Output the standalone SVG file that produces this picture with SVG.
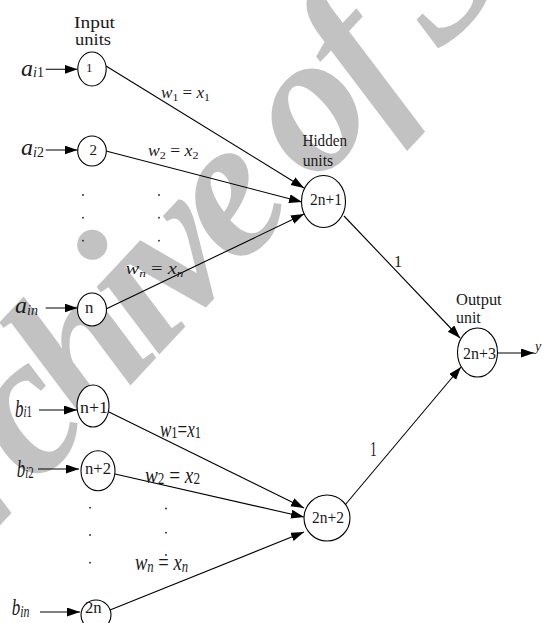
<svg xmlns="http://www.w3.org/2000/svg" width="544" height="623" viewBox="0 0 544 623">
<style>
text{font-family:"Liberation Serif","Times New Roman",serif;fill:#1a1a1a}
.i{font-style:italic}
.sub{font-size:11px}
.wm{font-family:"Liberation Serif",serif;font-weight:bold;font-style:italic;font-size:200px;letter-spacing:-12px;fill:#c2c2c2}
.node ellipse{fill:#fff;stroke:#000;stroke-width:1.1}
.edges line{stroke:#000;stroke-width:1.1}
.arr{marker-end:url(#ah)}
.dot{fill:#222}
</style>
<defs>
<marker id="ah" markerUnits="userSpaceOnUse" markerWidth="14" markerHeight="10" refX="13" refY="4.5" orient="auto">
<path d="M0,0 L13,4.5 L0,9 z" fill="#000"/>
</marker>
</defs>
<rect width="544" height="623" fill="#fff"/>
<g id="watermark">
<text class="wm" transform="translate(-92,624) rotate(-47)">Archive of SID</text>
</g>
<g id="headers" font-size="16">
<text x="74" y="27.5" textLength="41" lengthAdjust="spacingAndGlyphs">Input</text>
<text x="75" y="45" textLength="36" lengthAdjust="spacingAndGlyphs">units</text>
<text x="302.5" y="145.7" textLength="44.5" lengthAdjust="spacingAndGlyphs">Hidden</text>
<text x="302.7" y="165.7" textLength="30.5" lengthAdjust="spacingAndGlyphs">units</text>
<text x="456" y="305" textLength="45.7" lengthAdjust="spacingAndGlyphs">Output</text>
<text x="456" y="323" textLength="24.7" lengthAdjust="spacingAndGlyphs">unit</text>
</g>
<g class="edges">
<line class="arr" x1="45.7" y1="69.3" x2="77.5" y2="69.3"/>
<line class="arr" x1="45.7" y1="150" x2="77.5" y2="150"/>
<line class="arr" x1="45.7" y1="308" x2="77.5" y2="308"/>
<line class="arr" x1="39" y1="410" x2="77" y2="410"/>
<line class="arr" x1="38" y1="469" x2="79" y2="469"/>
<line class="arr" x1="40" y1="612" x2="80" y2="612"/>
<line class="arr" x1="106" y1="66" x2="304" y2="188"/>
<line class="arr" x1="106" y1="151" x2="302" y2="202"/>
<line class="arr" x1="106" y1="309" x2="304" y2="214"/>
<line class="arr" x1="109" y1="412" x2="304" y2="508"/>
<line class="arr" x1="115" y1="474" x2="304" y2="517"/>
<line class="arr" x1="110" y1="610" x2="304" y2="532"/>
<line class="arr" x1="344" y1="216" x2="460" y2="338"/>
<line class="arr" x1="345" y1="505" x2="461" y2="367"/>
<line class="arr" x1="497" y1="353" x2="534" y2="353"/>
</g>
<g id="n1" class="node"><ellipse cx="92" cy="69" rx="14.2" ry="17"/><text x="86" y="72" font-size="13">1</text></g>
<g id="n2" class="node"><ellipse cx="92" cy="151" rx="14.3" ry="15"/><text x="89.5" y="155" font-size="15">2</text></g>
<g id="nn" class="node"><ellipse cx="92" cy="309.5" rx="14.5" ry="16.5"/><text x="85" y="312.7" font-size="17" textLength="8.4" lengthAdjust="spacingAndGlyphs">n</text></g>
<g id="nn1" class="node"><ellipse cx="93" cy="406" rx="16" ry="21"/><text x="80" y="413" font-size="16" textLength="28" lengthAdjust="spacingAndGlyphs">n+1</text></g>
<g id="nn2" class="node"><ellipse cx="98" cy="470.7" rx="17" ry="20"/><text x="85" y="474.3" font-size="16" textLength="26" lengthAdjust="spacingAndGlyphs">n+2</text></g>
<g id="n2n" class="node"><ellipse cx="96" cy="615" rx="15" ry="15"/><text x="85" y="613.3" font-size="16" textLength="16.7" lengthAdjust="spacingAndGlyphs">2n</text></g>
<g id="n2n1" class="node"><ellipse cx="323.5" cy="201.5" rx="22" ry="26"/><text x="310" y="205" font-size="17" textLength="32" lengthAdjust="spacingAndGlyphs">2n+1</text></g>
<g id="n2n2" class="node"><ellipse cx="327" cy="518" rx="23" ry="23"/><text x="312" y="522.7" font-size="17" textLength="32" lengthAdjust="spacingAndGlyphs">2n+2</text></g>
<g id="n2n3" class="node"><ellipse cx="477.5" cy="352.5" rx="20" ry="24.5"/><text x="463" y="359" font-size="17" textLength="33" lengthAdjust="spacingAndGlyphs">2n+3</text></g>
<g id="inputs">
<text x="21" y="75.5" font-size="24"><tspan class="i">a</tspan><tspan font-size="14" dy="1.5"><tspan class="i">i</tspan>1</tspan></text>
<text x="21" y="155" font-size="24"><tspan class="i">a</tspan><tspan font-size="14" dy="2"><tspan class="i">i</tspan>2</tspan></text>
<text x="15" y="313.3" font-size="24"><tspan class="i">a</tspan><tspan class="i" font-size="14" dy="2">in</tspan></text>
<text transform="translate(15,416.7) scale(1,1.5)" font-size="17"><tspan class="i">b</tspan><tspan font-size="11" dy="0.5"><tspan class="i">i</tspan>1</tspan></text>
<text transform="translate(16.7,477.3) scale(1,1.5)" font-size="17"><tspan class="i">b</tspan><tspan font-size="11" dy="0.5"><tspan class="i">i</tspan>2</tspan></text>
<text transform="translate(11.7,615) scale(1,1.4)" font-size="17"><tspan class="i">b</tspan><tspan class="i" font-size="12" dy="1.5">in</tspan></text>
<text x="535" y="351" font-size="14" class="i">y</text>
</g>
<g id="weights">
<text x="161" y="98" font-size="16" textLength="49" lengthAdjust="spacingAndGlyphs"><tspan class="i">w</tspan><tspan class="sub" dy="3">1</tspan><tspan dy="-3"> = </tspan><tspan class="i">x</tspan><tspan class="sub" dy="3">1</tspan></text>
<text x="148" y="155.5" font-size="16" textLength="50.5" lengthAdjust="spacingAndGlyphs"><tspan class="i">w</tspan><tspan class="sub" dy="3">2</tspan><tspan dy="-3"> = </tspan><tspan class="i">x</tspan><tspan class="sub" dy="3">2</tspan></text>
<text x="125.5" y="273.5" font-size="17" textLength="58" lengthAdjust="spacingAndGlyphs"><tspan class="i">w</tspan><tspan class="sub i" dy="3">n</tspan><tspan dy="-3"> = </tspan><tspan class="i">x</tspan><tspan class="sub i" dy="3">n</tspan></text>
<text transform="translate(160,436.7) scale(1,1.5)" font-size="15" textLength="41" lengthAdjust="spacingAndGlyphs"><tspan class="i">w</tspan><tspan class="sub" dy="1">1</tspan><tspan dy="-1">=</tspan><tspan class="i">x</tspan><tspan class="sub" dy="1">1</tspan></text>
<text transform="translate(145,482.7) scale(1,1.5)" font-size="16" textLength="55" lengthAdjust="spacingAndGlyphs"><tspan class="i">w</tspan><tspan class="sub" dy="1">2</tspan><tspan dy="-1"> = </tspan><tspan class="i">x</tspan><tspan class="sub" dy="1">2</tspan></text>
<text transform="translate(135,569.5) scale(1,1.5)" font-size="16" textLength="53" lengthAdjust="spacingAndGlyphs"><tspan class="i">w</tspan><tspan class="sub i" dy="1.5">n</tspan><tspan dy="-1.5"> = </tspan><tspan class="i">x</tspan><tspan class="sub i" dy="1.5">n</tspan></text>
<text x="394" y="267" font-size="16">1</text>
<text transform="translate(370,456) scale(0.9,1.4)" font-size="15">1</text>
</g>
<g id="dots" class="dot">
<circle cx="83" cy="195" r="0.9"/><circle cx="83" cy="217.7" r="0.9"/><circle cx="83" cy="240.7" r="0.9"/>
<circle cx="159" cy="195" r="0.9"/><circle cx="159" cy="217.7" r="0.9"/><circle cx="159" cy="240.7" r="0.9"/>
<circle cx="90" cy="507.7" r="0.9"/><circle cx="90" cy="535" r="0.9"/><circle cx="90" cy="562.7" r="0.9"/>
<circle cx="166" cy="508.5" r="0.9"/><circle cx="166" cy="532.7" r="0.9"/><circle cx="166" cy="555" r="0.9"/>
</g>
</svg>
